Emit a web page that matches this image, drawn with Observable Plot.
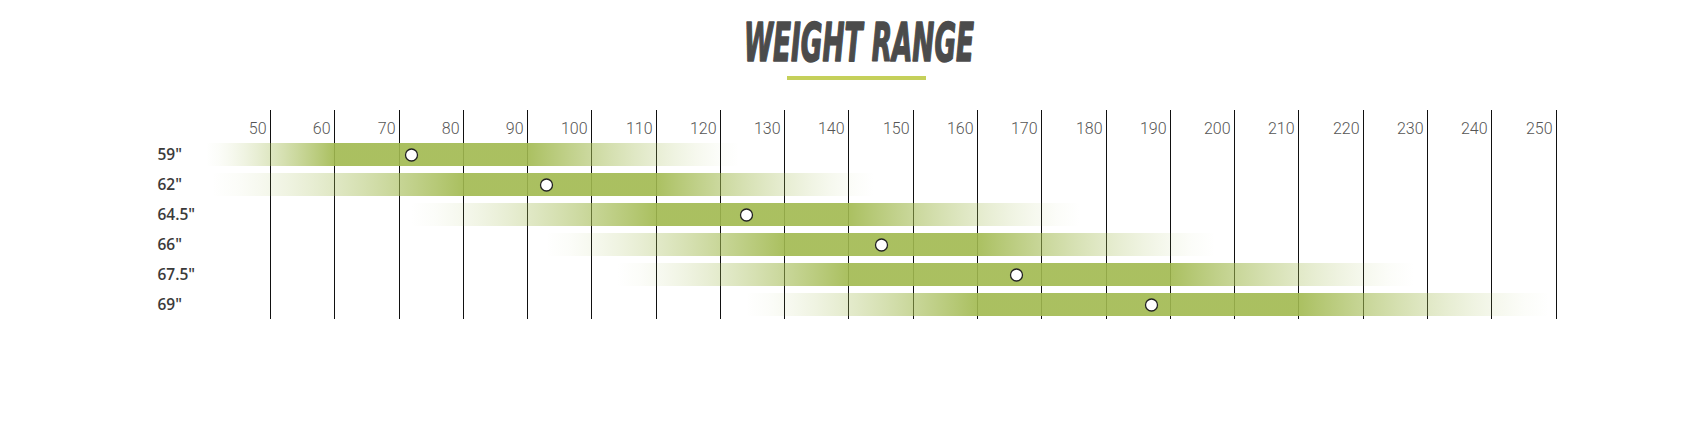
<!DOCTYPE html>
<html>
<head>
<meta charset="utf-8">
<script src="https://cdn.jsdelivr.net/npm/d3@7"></script>
<script src="https://cdn.jsdelivr.net/npm/@observablehq/plot@0.6"></script>
<style>
  html, body { margin: 0; padding: 0; background: #fff; }
  #wrap { width: 1706px; }
  #title { display: block; }
  #chart svg { display: block; }
</style>
</head>
<body>
<div id="wrap">
  <svg id="title" width="1706" height="95">
    <text x="859" y="61" text-anchor="middle" textLength="230" lengthAdjust="spacingAndGlyphs"
      font-family="'Liberation Sans Narrow','DejaVu Sans Condensed','Liberation Sans',sans-serif"
      font-weight="700" font-style="italic" font-size="53" fill="#4b4b4b"
      stroke="#4b4b4b" stroke-width="1.6" stroke-linejoin="round">WEIGHT RANGE</text>
    <rect x="787" y="76" width="139" height="4" fill="#c5d05a"></rect>
  </svg>
  <div id="chart"></div>
</div>
<script>
// ---- data ----
const rows = ['59"', '62"', '64.5"', '66"', '67.5"', '69"'];
const rangeStart = [40, 41, 72, 93, 104, 124];   // where the faded band begins (lbs)
const solidStart = [60, 80, 110, 130, 140, 160]; // full-colour band begins
const solidEnd   = [90, 110, 140, 160, 190, 210]; // full-colour band ends
const rangeEnd   = [123, 144, 176, 197, 228, 249]; // faded band ends
const idealWeight = [72, 93, 124, 145, 166, 187]; // white marker
const tickValues = [50, 60, 70, 80, 90, 100, 110, 120, 130, 140, 150, 160, 170, 180, 190, 200, 210, 220, 230, 240, 250];

const data = rows.map((row, i) => ({
  row, start: rangeStart[i], solidStart: solidStart[i], solidEnd: solidEnd[i],
  end: rangeEnd[i], ideal: idealWeight[i]
}));

const barColor = "#a1b94f";

const chart = Plot.plot({
  width: 1706,
  height: 332,
  marginLeft: 270,
  marginRight: 150.5,
  marginTop: 15,
  marginBottom: 108,
  x: { domain: [50, 250], axis: null, round: true },
  y: { domain: rows, range: [45, 225], paddingInner: 0.22, paddingOuter: 0.11, axis: null },
  style: { background: "transparent", overflow: "visible" },
  marks: [
    Plot.ruleX(tickValues, { stroke: "#111", strokeWidth: 1 }),
    ...data.map((d, i) => Plot.barX([d], {
      x1: "start", x2: "end", y: "row", fill: `url(#wg${i})`, fillOpacity: 0.9
    })),
    Plot.dot(data, { x: "ideal", y: "row", r: 6, fill: "white", stroke: "#222", strokeWidth: 1.3 }),
    Plot.text(tickValues, {
      x: d => d, text: d => String(d), frameAnchor: "top", dy: 12, dx: -4, textAnchor: "end",
      fontSize: 16, fontWeight: 300, fontFamily: "Roboto", fill: "#555"
    }),
    Plot.text(data, {
      y: "row", text: "row", frameAnchor: "left", textAnchor: "start", dx: -113,
      fontSize: 15.5, fontWeight: 600, fontFamily: "'Open Sans'", fill: "#3a3a3a"
    })
  ]
});

// gradient definitions (styling only, offsets derived from the data arrays)
const ns = "http://www.w3.org/2000/svg";
const defs = document.createElementNS(ns, "defs");
data.forEach((d, i) => {
  const g = document.createElementNS(ns, "linearGradient");
  g.setAttribute("id", `wg${i}`);
  g.setAttribute("x1", "0"); g.setAttribute("x2", "1");
  g.setAttribute("y1", "0"); g.setAttribute("y2", "0");
  const L = d.end - d.start;
  const stops = [];
  const N = 10;
  for (let k = 0; k <= N; k++) {
    const t = k / N;
    stops.push([(d.solidStart - d.start) * t / L, Math.pow(t, 1.4)]);
  }
  for (let k = 0; k <= N; k++) {
    const t = k / N;
    stops.push([(d.solidEnd - d.start + (d.end - d.solidEnd) * t) / L, Math.pow(1 - t, 1.4)]);
  }
  stops.forEach(([o, a]) => {
    const s = document.createElementNS(ns, "stop");
    s.setAttribute("offset", Math.max(0, Math.min(1, o)).toFixed(4));
    s.setAttribute("stop-color", barColor);
    s.setAttribute("stop-opacity", a.toFixed(3));
    g.appendChild(s);
  });
  defs.appendChild(g);
});
chart.insertBefore(defs, chart.firstChild);
document.getElementById("chart").appendChild(chart);
</script>
</body>
</html>
